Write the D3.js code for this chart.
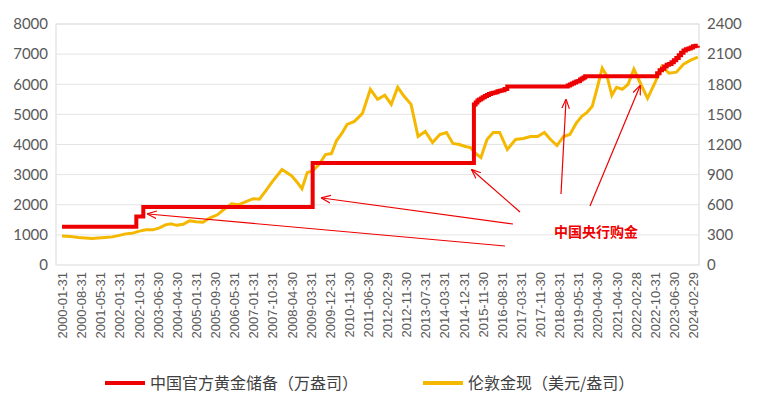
<!DOCTYPE html>
<html><head><meta charset="utf-8">
<script src="https://cdn.jsdelivr.net/npm/d3@7"></script>
<style>body{margin:0;background:#fff}text{font-family:"Noto Sans CJK SC","Noto Sans",sans-serif}</style>
</head><body><svg id="c" width="758" height="402"></svg>
<script>
const tickLabels=["2000-01-31","2000-08-31","2001-05-31","2002-01-31","2002-10-31","2003-06-30","2004-04-30","2005-01-31","2005-09-30","2006-05-31","2007-01-31","2007-10-31","2008-04-30","2009-03-31","2009-12-31","2010-11-30","2011-06-30","2012-02-29","2012-11-30","2013-07-31","2014-03-31","2014-12-31","2015-11-30","2016-08-31","2017-03-31","2017-11-30","2018-08-31","2019-05-31","2020-04-30","2021-04-30","2022-02-28","2022-10-31","2023-06-30","2024-02-29"];
const reserveDates=["2000-01","2002-09","2002-12","2009-04","2015-06","2015-07","2015-08","2015-09","2015-10","2015-11","2015-12","2016-01","2016-02","2016-03","2016-04","2016-05","2016-06","2016-07","2016-08","2016-09","2016-10","2018-12","2019-01","2019-02","2019-03","2019-04","2019-05","2019-06","2019-07","2019-08","2019-09","2022-11","2022-12","2023-01","2023-02","2023-03","2023-04","2023-05","2023-06","2023-07","2023-08","2023-09","2023-10","2023-11","2023-12","2024-01","2024-02","2024-03","2024-04"];
const reserveValues=[1267,1608,1929,3389,5331,5393,5459,5493,5524,5566,5609,5643,5679,5702,5722,5735,5766,5788,5803,5844,5924,5956,5988,6026,6062,6092,6110,6161,6194,6226,6264,6367,6464,6512,6592,6650,6676,6727,6795,6869,6962,7046,7120,7158,7187,7219,7258,7274,7280];
const goldDates=[];for(let y=2000;y<=2023;y++)for(const m of["01","04","07","10"])goldDates.push(y+"-"+m);goldDates.push("2024-01","2024-04");
const goldValues=[290,285,275,270,265,270,275,280,295,310,315,335,350,350,370,400,410,395,405,440,430,425,470,500,560,610,600,630,660,655,740,830,950,890,830,760,920,940,1000,1100,1110,1240,1310,1400,1430,1510,1750,1650,1690,1600,1770,1680,1600,1280,1330,1220,1300,1320,1210,1200,1180,1170,1110,1070,1250,1320,1320,1150,1250,1260,1280,1280,1320,1250,1190,1280,1300,1410,1480,1520,1580,1770,1960,1880,1690,1770,1750,1800,1950,1810,1660,1810,1980,1910,1920,2000,2040,2070];
const p=d3.timeParse("%Y-%m"),pd=d3.timeParse("%Y-%m-%d");
const svg=d3.select("#c");
const tickDates=tickLabels.map(pd);
const x=d3.scaleTime().domain(tickDates).range(tickDates.map((d,i)=>62+i*(693-62)/(tickDates.length-1)));
const yL=d3.scaleLinear().domain([0,8000]).range([265,24]);
const yR=d3.scaleLinear().domain([0,2400]).range([265,24]);
svg.append("rect").attr("x",56).attr("y",24).attr("width",643).attr("height",241).attr("fill","none").attr("stroke","#d9d9d9");
d3.range(1000,8001,1000).forEach(v=>svg.append("line").attr("x1",56).attr("x2",699).attr("y1",yL(v)).attr("y2",yL(v)).attr("stroke","#e4e4e4"));
const gl=svg.append("g").attr("transform","translate(56,0)").call(d3.axisLeft(yL).tickValues(d3.range(0,8001,1000)).tickFormat(d3.format("d")).tickSize(0).tickPadding(8));
const gr=svg.append("g").attr("transform","translate(699,0)").call(d3.axisRight(yR).tickValues(d3.range(0,2401,300)).tickFormat(d3.format("d")).tickSize(0).tickPadding(8));
[gl,gr].forEach(g=>{g.select(".domain").remove();g.selectAll("text").attr("font-size",15).attr("fill","#595959").style("font-family","Lato,Roboto,sans-serif");});
const gx=svg.append("g").attr("transform","translate(0,265)").call(d3.axisBottom(x).tickValues(tickDates).tickFormat(d3.timeFormat("%Y-%m-%d")).tickSize(0));
gx.select(".domain").remove();
gx.selectAll("text").attr("font-size",13).attr("fill","#595959").style("font-family","Liberation Sans,sans-serif").attr("transform","rotate(-90)").attr("text-anchor","end").attr("dx","-7").attr("dy","0.35em").attr("x",0).attr("y",0);
const pm=d=>d3.timeDay.offset(d3.timeMonth.offset(p(d),1),-1);
const gold=goldDates.map((d,i)=>[pm(d),goldValues[i]]);
const res=reserveDates.map((d,i)=>[pm(d),reserveValues[i]]);
svg.append("path").attr("d",d3.line().x(d=>x(d[0])).y(d=>yR(d[1])).curve(d3.curveLinear)(gold)).attr("fill","none").attr("stroke","#f5b800").attr("stroke-width",3);
svg.append("path").attr("d",d3.line().x(d=>x(d[0])).y(d=>yL(d[1])).curve(d3.curveStepAfter)(res)).attr("fill","none").attr("stroke","#ee0000").attr("stroke-width",4);
const defs=svg.append("defs");
defs.append("marker").attr("id","ah").attr("viewBox","0 0 10 10").attr("refX",9).attr("refY",5).attr("markerWidth",8).attr("markerHeight",8).attr("orient","auto").append("path").attr("d","M0,1 L10,5 L0,9").attr("fill","none").attr("stroke","#ee0000").attr("stroke-width",1.2);
const arrows=[[505,246,148,214],[513,224,322,198],[520,212,472,170],[561,194,566,100],[590,206,640,86]];
arrows.forEach(a=>svg.append("line").attr("x1",a[0]).attr("y1",a[1]).attr("x2",a[2]).attr("y2",a[3]).attr("stroke","#ee0000").attr("stroke-width",1.2).attr("marker-end","url(#ah)"));
svg.append("text").attr("x",596).attr("y",237).attr("text-anchor","middle").attr("font-size",14).attr("font-weight","bold").attr("fill","#ee0000").text("中国央行购金");
svg.append("line").attr("x1",105).attr("x2",145).attr("y1",383).attr("y2",383).attr("stroke","#ee0000").attr("stroke-width",4);
svg.append("text").attr("x",150).attr("y",389).attr("font-size",16).attr("fill","#404040").text("中国官方黄金储备（万盎司）");
svg.append("line").attr("x1",423).attr("x2",463).attr("y1",383).attr("y2",383).attr("stroke","#f5b800").attr("stroke-width",4);
svg.append("text").attr("x",468).attr("y",389).attr("font-size",16).attr("fill","#404040").text("伦敦金现（美元/盎司）");
</script></body></html>
